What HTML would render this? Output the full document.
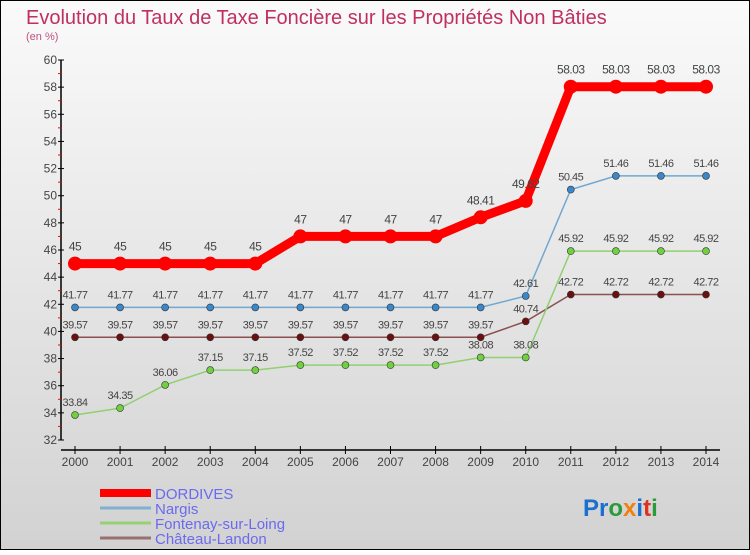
<!DOCTYPE html>
<html><head><meta charset="utf-8"><style>
html,body{margin:0;padding:0}
body{width:750px;height:550px;overflow:hidden;font-family:"Liberation Sans",sans-serif}
</style></head><body>
<svg id="chart" width="750" height="550" xmlns="http://www.w3.org/2000/svg">
<defs><linearGradient id="bg" x1="0" y1="0" x2="0" y2="1"><stop offset="0" stop-color="#fafafa"/><stop offset="1" stop-color="#d2d2d2"/></linearGradient></defs>
<rect x="0.5" y="0.5" width="749" height="549" fill="url(#bg)" stroke="#000"/>
<text x="26" y="24" font-size="20" fill="#c0305f">Evolution du Taux de Taxe Foncière sur les Propriétés Non Bâties</text>
<text x="26" y="40" font-size="11" fill="#c0507f">(en %)</text>
<g id="axes"></g><g id="series"></g><g id="legend"></g>
<text x="583" y="516" font-size="24" font-weight="bold"><tspan fill="#1a6fd0">Pr</tspan><tspan fill="#2a9a3a">o</tspan><tspan fill="#f08010">x</tspan><tspan fill="#1a6fd0">i</tspan><tspan fill="#e03020">t</tspan><tspan fill="#2a9a3a">i</tspan></text>
</svg>
<script>
const years=[2000,2001,2002,2003,2004,2005,2006,2007,2008,2009,2010,2011,2012,2013,2014];
const yTicks=[32,34,36,38,40,42,44,46,48,50,52,54,56,58,60];
const seriesNames=["DORDIVES","Nargis","Fontenay-sur-Loing","Château-Landon"];
const dordives=[45,45,45,45,45,47,47,47,47,48.41,49.62,58.03,58.03,58.03,58.03];
const nargis=[41.77,41.77,41.77,41.77,41.77,41.77,41.77,41.77,41.77,41.77,42.61,50.45,51.46,51.46,51.46];
const fontenay=[33.84,34.35,36.06,37.15,37.15,37.52,37.52,37.52,37.52,38.08,38.08,45.92,45.92,45.92,45.92];
const chateau=[39.57,39.57,39.57,39.57,39.57,39.57,39.57,39.57,39.57,39.57,40.74,42.72,42.72,42.72,42.72];
const NS="http://www.w3.org/2000/svg";
const x=i=>75+i*(706-75)/(years.length-1);
const y=v=>440-(v-32)*(380/28);
function mk(p,t,a){const e=document.createElementNS(NS,t);for(const k in a)e.setAttribute(k,a[k]);p.appendChild(e);return e;}
const ax=document.getElementById('axes');
let l=mk(ax,'line',{x1:61,y1:60,x2:61,y2:440,stroke:'#000','stroke-width':1.5});


yTicks.forEach((v,k)=>{
 mk(ax,'line',{x1:58,y1:y(v),x2:64,y2:y(v),stroke:'#000'});
 if(k<yTicks.length-1) mk(ax,'line',{x1:58,y1:y(v+1),x2:61,y2:y(v+1),stroke:'#f00'});
 const t=mk(ax,'text',{x:57,y:y(v)+4,'font-size':12,'text-anchor':'end',fill:'#444'});t.textContent=v;
 
 
});
l=mk(ax,'line',{x1:61,y1:450,x2:720,y2:450,stroke:'#000','stroke-width':1.5});


years.forEach((yr,i)=>{
 mk(ax,'line',{x1:x(i),y1:446,x2:x(i),y2:454,stroke:'#000'});
 const t=mk(ax,'text',{x:x(i),y:466,'font-size':12,'text-anchor':'middle',fill:'#444'});t.textContent=yr;
 
 
});
const sg=document.getElementById('series');
const defs=[
 {d:chateau,c:'#8b5050',pc:'#6a1010',w:1.5,r:3.5,n:'chateau-landon'},
 {d:fontenay,c:'#90d070',pc:'#70d040',w:1.5,r:3.5,n:'fontenay-sur-loing'},
 {d:nargis,c:'#70a8d0',pc:'#3a88cc',w:1.5,r:3.5,n:'nargis'},
 {d:dordives,c:'#f00',pc:'#f00',w:9,r:7,n:'dordives'}];
defs.forEach(s=>{
 const g=mk(sg,'g',{});
 
 
 const pl=mk(g,'polyline',{points:s.d.map((v,i)=>x(i)+','+y(v)).join(' '),fill:'none',stroke:s.c,'stroke-width':s.w});
 
 
 s.d.forEach((v,i)=>{
  const c=mk(g,'circle',{cx:x(i),cy:y(v),r:s.r,fill:s.pc,stroke:'#333','stroke-width':s.r>5?0:0.6});
  
  
  const t=mk(g,'text',{x:x(i),y:y(v)-(s.r>5?13:9),'font-size':s.r>5?12:11,'text-anchor':'middle',fill:'#444','letter-spacing':'-0.5'});
  t.textContent=v;
  
  
 });
});
const lg=document.getElementById('legend');
const lc=['#f00','#80b0d0','#98d078','#987070'],lw=[8,3,3,3];
seriesNames.forEach((n,i)=>{
 const yy=493+i*15;
 const g=mk(lg,'g',{});
 
 
 mk(g,'line',{x1:100,y1:yy,x2:151,y2:yy,stroke:lc[i],'stroke-width':lw[i]});
 const t=mk(g,'text',{x:155,y:yy+6,'font-size':15,fill:'#6a6af0'});t.textContent=n;
});
</script>
</body></html>
